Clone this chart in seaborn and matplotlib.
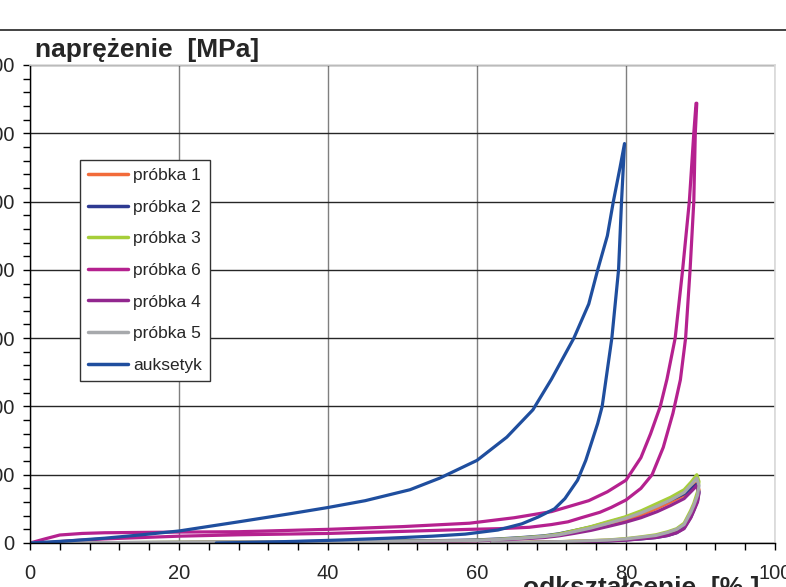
import numpy as np
import pandas as pd
import matplotlib
matplotlib.use('Agg')
import matplotlib.pyplot as plt
from matplotlib.ticker import MultipleLocator, AutoMinorLocator
import seaborn as sns

# --- data (strain %, stress MPa) ---
series_names = ['próbka 1', 'próbka 2', 'próbka 3', 'próbka 6', 'próbka 4', 'próbka 5', 'auksetyk']
series_colors = ['#F26B3A', '#2E3A92', '#A6CE39', '#B5218F', '#92278F', '#A7A9AC', '#1F4E9E']

# samples 1-5 share a strain grid
sample_load_x = [0, 10, 20, 30, 40, 50, 55, 60, 63, 66, 69, 71, 73, 75.3, 77.5, 79.8, 82, 84.2, 86, 87.8, 88.8, 89.5]
sample_unload_x = [89.5, 89.8, 89.6, 89.1, 88.7, 87.8, 86.8, 85.6, 84, 82, 80, 77.5, 74, 71, 66, 62]

p1_load_y = [0, 0.4, 0.8, 1.2, 1.8, 2.2, 2.8, 3.6, 5, 6.8, 9, 11.5, 15.5, 20.5, 26.5, 33, 41, 51, 60, 70, 80, 88]
p1_unload_y = [88, 78, 65, 51, 42, 26, 19, 14.5, 10.5, 8, 5.8, 4, 2.8, 1.8, 0.7, 0]
p2_load_y = [0, 0.5, 1, 1.5, 2.5, 3, 3.5, 4.5, 6, 8, 10.5, 13.5, 18, 23.5, 30, 37, 45, 55, 63, 72, 80, 86]
p2_unload_y = [86, 75, 62, 48, 38, 22, 15, 11, 8, 6, 4.5, 3, 2, 1.5, 0.5, 0]
p3_load_y = [0, 0.5, 1, 1.5, 2, 2.5, 3, 4, 5.5, 7.5, 10, 13, 18, 24, 31, 38, 47, 58, 67, 78, 90, 100]
p3_unload_y = [100, 90, 75, 58, 48, 29, 21, 16.5, 12, 9, 6.5, 4.4, 3, 2, 0.8, 0]
p4_load_y = [0, 0.3, 0.6, 1, 1.5, 2, 2.5, 3.2, 4.5, 6, 8, 10.5, 14, 18.5, 24, 30, 37, 46, 55, 65, 76, 84]
p4_unload_y = [84, 73, 60, 47, 37, 21, 15, 11, 8, 6, 4.2, 3, 2, 1.4, 0.5, 0]
p5_load_y = [0, 0.5, 1, 1.5, 2, 2.5, 3, 3.8, 5.2, 7, 9.5, 12, 16.5, 22, 28.5, 35.5, 44, 54, 63, 74, 86, 95]
p5_unload_y = [95, 84, 70, 55, 45, 27, 20, 15.5, 11, 8.5, 6, 4.2, 2.9, 1.9, 0.8, 0]

p6_load_x = [0, 2, 4, 7, 10, 15, 20, 28, 40, 50, 59, 65, 70, 72.2, 75, 77.5, 80, 82, 83.3, 84.6, 85.5, 86.6, 87.6, 88.5, 89.1, 89.4]
p6_load_y = [0, 6, 11.7, 14, 15, 15.5, 16, 16.5, 20, 24, 29, 37, 46, 53, 62, 75, 92, 125, 160, 200, 240, 300, 400, 500, 600, 644]
p6_unload_x = [89.5, 89.3, 89.1, 88.6, 88.0, 87.3, 86.3, 85, 83.5, 82, 80, 78, 76.5, 74, 72.2, 70, 67, 63, 59, 50, 40, 28, 20, 10, 5, 2]
p6_unload_y = [644, 600, 500, 400, 300, 239, 190, 140, 100, 80, 63, 52, 45, 37, 31, 27, 23, 21, 20, 17, 14, 12, 10, 6, 3, 0]

aux_load_x = [0, 5, 10, 15, 20, 28, 35, 40, 45, 51, 55, 60, 64, 67.5, 70, 73, 75, 76.2, 77.5, 78.3, 79.2, 79.8]
aux_load_y = [0, 3, 7, 12, 17.6, 31, 43, 52, 62, 78, 95, 121, 155, 195, 240, 300, 350, 400, 450, 500, 550, 585]
aux_unload_x = [79.8, 79.4, 79.0, 78.1, 76.8, 76.2, 74.6, 73.5, 71.8, 70.4, 68.2, 66, 62.8, 58.4, 54, 48, 42, 36, 30, 25]
aux_unload_y = [585, 500, 400, 300, 200, 175, 121, 92, 65, 50, 38, 28, 19, 13, 10, 7, 4.5, 2.5, 1, 0]

curves = {
    'próbka 1': (sample_load_x + sample_unload_x, p1_load_y + p1_unload_y),
    'próbka 2': (sample_load_x + sample_unload_x, p2_load_y + p2_unload_y),
    'próbka 3': (sample_load_x + sample_unload_x, p3_load_y + p3_unload_y),
    'próbka 6': (p6_load_x + p6_unload_x, p6_load_y + p6_unload_y),
    'próbka 4': (sample_load_x + sample_unload_x, p4_load_y + p4_unload_y),
    'próbka 5': (sample_load_x + sample_unload_x, p5_load_y + p5_unload_y),
    'auksetyk': (aux_load_x + aux_unload_x, aux_load_y + aux_unload_y),
}

rows = []
for name in series_names:
    xs, ys = curves[name]
    for x, y in zip(xs, ys):
        rows.append({'series': name, 'strain': x, 'stress': y})
df = pd.DataFrame(rows)

sns.set_style('white')
plt.rcParams['font.family'] = ['Liberation Sans', 'DejaVu Sans']

fig = plt.figure(figsize=(7.86, 5.87), dpi=100)
ax = fig.add_axes([30 / 786, 44 / 587, 745 / 786, 478 / 587])

sns.lineplot(data=df, x='strain', y='stress', hue='series', hue_order=series_names,
             palette=series_colors, sort=False, estimator=None, linewidth=2.3, ax=ax)

ax.set_xlim(0, 100)
ax.set_ylim(0, 700)
ax.xaxis.set_major_locator(MultipleLocator(20))
ax.xaxis.set_minor_locator(AutoMinorLocator(5))
ax.yaxis.set_major_locator(MultipleLocator(100))
ax.yaxis.set_minor_locator(AutoMinorLocator(5))
ax.tick_params(which='both', direction='out', length=5, width=1, color='black')
ax.tick_params(axis='x', which='both', bottom=True, labelsize=14.5, pad=10)
ax.tick_params(axis='y', which='both', left=True, labelsize=14.5, pad=6)
ax.set_xlabel('')
ax.set_ylabel('')

ax.set_axisbelow(True)
ax.yaxis.grid(True, color='#262626', linewidth=1)
ax.xaxis.grid(True, color='#7f7f7f', linewidth=1)
for side in ['left', 'bottom']:
    ax.spines[side].set_color('black')
    ax.spines[side].set_linewidth(1)
for side in ['top', 'right']:
    ax.spines[side].set_visible(True)
    ax.spines[side].set_color('#d9d9d9')
    ax.spines[side].set_linewidth(1.2)

leg = ax.legend(loc='upper left', bbox_to_anchor=((80 - 30) / 745, (543 - 160) / 478),
                borderaxespad=0, fontsize=12.5, frameon=True, fancybox=False, framealpha=1,
                edgecolor='#333333', handlelength=2.3, handletextpad=0.3,
                labelspacing=0.95, borderpad=0.45)
leg.get_frame().set_linewidth(1)
for line in leg.get_lines():
    line.set_linewidth(2.5)

fig.text(35 / 786, 1 - 57 / 587, 'naprężenie  [MPa]', fontsize=19, fontweight='bold', va='baseline')
fig.text(523 / 786, 1 - 576 / 587, 'odkształcenie  [% ]', fontsize=19, fontweight='bold', va='top')
fig.add_artist(plt.Line2D([0, 1], [1 - 30 / 587] * 2, color='#222222', linewidth=1.2,
                          transform=fig.transFigure))

fig.savefig('out.png', dpi=100)
